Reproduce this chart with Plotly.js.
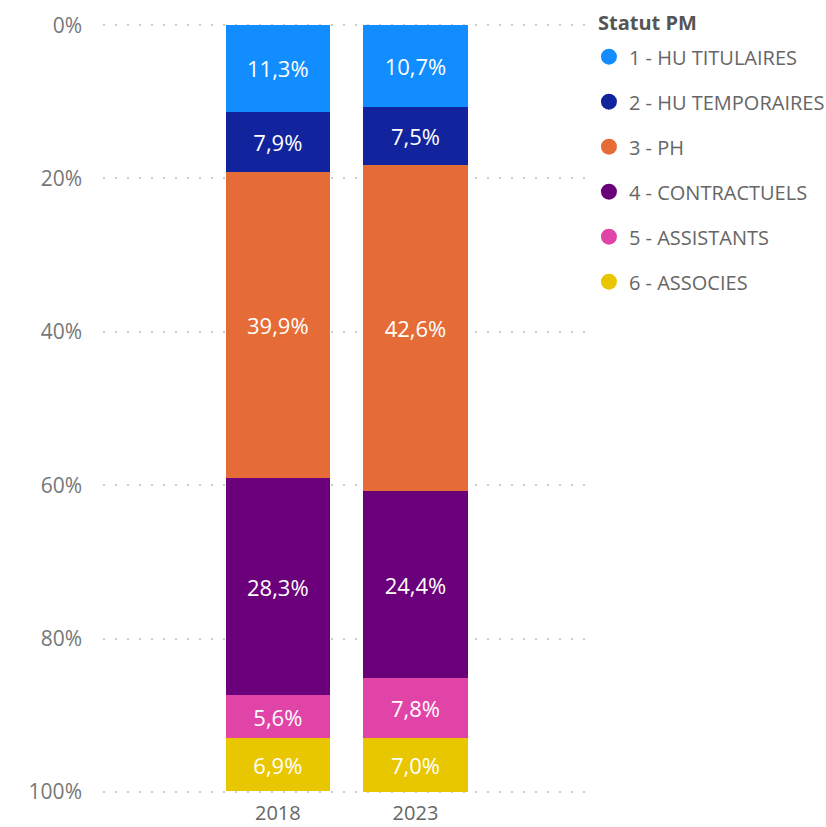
<!DOCTYPE html>
<html>
<head>
<meta charset="utf-8">
<script src="https://cdn.plot.ly/plotly-3.0.1.min.js"></script>
<style>html,body{margin:0;padding:0;background:#fff;}#chart{width:826px;height:827px;}</style>
</head>
<body>
<div id="chart"></div>
<script>
const years = ['2018', '2023'];
const statuts = ['1 - HU TITULAIRES', '2 - HU TEMPORAIRES', '3 - PH', '4 - CONTRACTUELS', '5 - ASSISTANTS', '6 - ASSOCIES'];
const hu_titulaires = [11.3, 10.7];
const hu_temporaires = [7.9, 7.5];
const ph = [39.9, 42.6];
const contractuels = [28.3, 24.4];
const assistants = [5.6, 7.8];
const associes = [6.9, 7.0];
const yTicks = [0, 20, 40, 60, 80, 100];
const yTickText = ['0%', '20%', '40%', '60%', '80%', '100%'];
const colors = ['#118DFF', '#12239E', '#E66C37', '#6B007B', '#E044A7', '#E8C600'];

const series = [hu_titulaires, hu_temporaires, ph, contractuels, assistants, associes];
const font = 'Open Sans, Noto Sans, sans-serif';

const traces = [];
series.forEach((vals, i) => {
  traces.push({
    type: 'bar', x: years, y: vals, name: statuts[i],
    marker: {color: colors[i], line: {width: 0}},
    width: 0.756,
    texttemplate: '%{y:.1f}%', textposition: 'inside', insidetextanchor: 'middle',
    textangle: 0, constraintext: 'none',
    textfont: {color: '#ffffff', size: 22, family: font},
    showlegend: false, hoverinfo: 'skip'
  });
});
statuts.forEach((s, i) => {
  traces.push({
    type: 'scatter', mode: 'markers', x: [null], y: [null], name: s,
    legendgroup: 'g' + i,
    marker: {color: colors[i], size: 18, symbol: 'circle'},
    hoverinfo: 'skip'
  });
});

const layout = {
  width: 826, height: 827,
  margin: {l: 103, r: 236, t: 24, b: 34, pad: 0},
  paper_bgcolor: '#ffffff', plot_bgcolor: '#ffffff',
  barmode: 'stack', bargap: 0,
  separators: ', ',
  font: {family: font, color: '#666666'},
  xaxis: {
    type: 'category', range: [-1.27, 2.26], showgrid: false, zeroline: false,
    showline: false, ticks: '', tickfont: {size: 20, color: '#666666'},
    ticklabelstandoff: 6,
    fixedrange: true
  },
  yaxis: {
    range: [100.15, -0.15], tickvals: yTicks, ticktext: yTickText,
    showgrid: true, gridcolor: '#cccccc', gridwidth: 2, griddash: '2px,10px',
    zeroline: false, showline: false, ticks: '',
    ticklabelstandoff: 20,
    tickfont: {size: 21, color: '#777777'}, fixedrange: true
  },
  annotations: [{
    xref: 'paper', yref: 'paper', x: 494 / 487, y: 1 + 2 / 769,
    xanchor: 'left', yanchor: 'middle', showarrow: false,
    text: '<b>Statut PM</b>', font: {size: 20, color: '#555555', family: font}
  }],
  legend: {
    xref: 'container', yref: 'container', x: 0.713, y: 0.955,
    xanchor: 'left', yanchor: 'top',
    font: {size: 20, color: '#666666', family: font},
    tracegroupgap: 16, itemwidth: 30,
    bgcolor: 'rgba(0,0,0,0)'
  },
  showlegend: true
};

Plotly.newPlot('chart', traces, layout, {displayModeBar: false, staticPlot: true});
</script>
</body>
</html>
